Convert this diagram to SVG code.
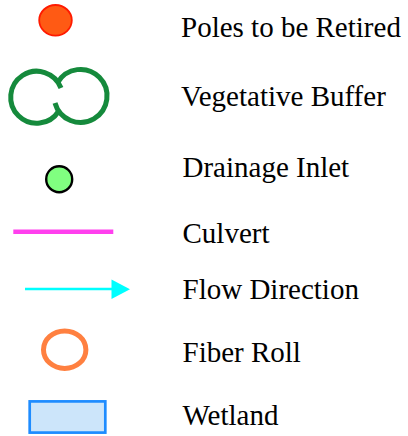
<svg xmlns="http://www.w3.org/2000/svg" width="408" height="436" viewBox="0 0 408 436">
  <style>
    .lbl { font-family: "Liberation Serif", "Times New Roman", serif; font-size: 29px; fill: #000; }
    .buf { fill: none; stroke: #158a3c; stroke-width: 5; }
  </style>
  <rect width="408" height="436" fill="#fff"/>
  <g id="poles">
    <ellipse cx="55.5" cy="20.3" rx="16.3" ry="15.3" fill="#ff5a14" stroke="#ff1a00" stroke-width="1.8"/>
    <text class="lbl" x="181" y="37">Poles to be Retired</text>
  </g>
  <g id="vegetative-buffer">
    <path class="buf" d="M 61,88 A 26 26 0 1 0 58.7,111.1"/>
    <path class="buf" d="M 55,103 A 26.5 26.5 0 1 0 57.7,82.5"/>
    <text class="lbl" x="181" y="105.7">Vegetative Buffer</text>
  </g>
  <g id="drainage-inlet">
    <circle cx="59.2" cy="179.2" r="13" fill="#80ff80" stroke="#000" stroke-width="2.4"/>
    <text class="lbl" x="182.5" y="177.3">Drainage Inlet</text>
  </g>
  <g id="culvert">
    <line x1="13.3" y1="231.8" x2="113.3" y2="231.8" stroke="#ff40ee" stroke-width="4.5"/>
    <text class="lbl" x="182.5" y="242.7">Culvert</text>
  </g>
  <g id="flow-direction">
    <line x1="25" y1="289" x2="113" y2="289" stroke="#00ffff" stroke-width="2.3"/>
    <polygon points="111.5,279.5 130,289.2 111.5,299" fill="#00ffff"/>
    <text class="lbl" x="182.5" y="299">Flow Direction</text>
  </g>
  <g id="fiber-roll">
    <ellipse cx="64.7" cy="349.7" rx="21.2" ry="18.8" fill="none" stroke="#ff8040" stroke-width="5"/>
    <text class="lbl" x="182.5" y="362.3">Fiber Roll</text>
  </g>
  <g id="wetland">
    <rect x="29.7" y="401.4" width="75.6" height="31.2" fill="#cce5fa" stroke="#1e8cff" stroke-width="2.7"/>
    <text class="lbl" x="182.5" y="425">Wetland</text>
  </g>
</svg>
